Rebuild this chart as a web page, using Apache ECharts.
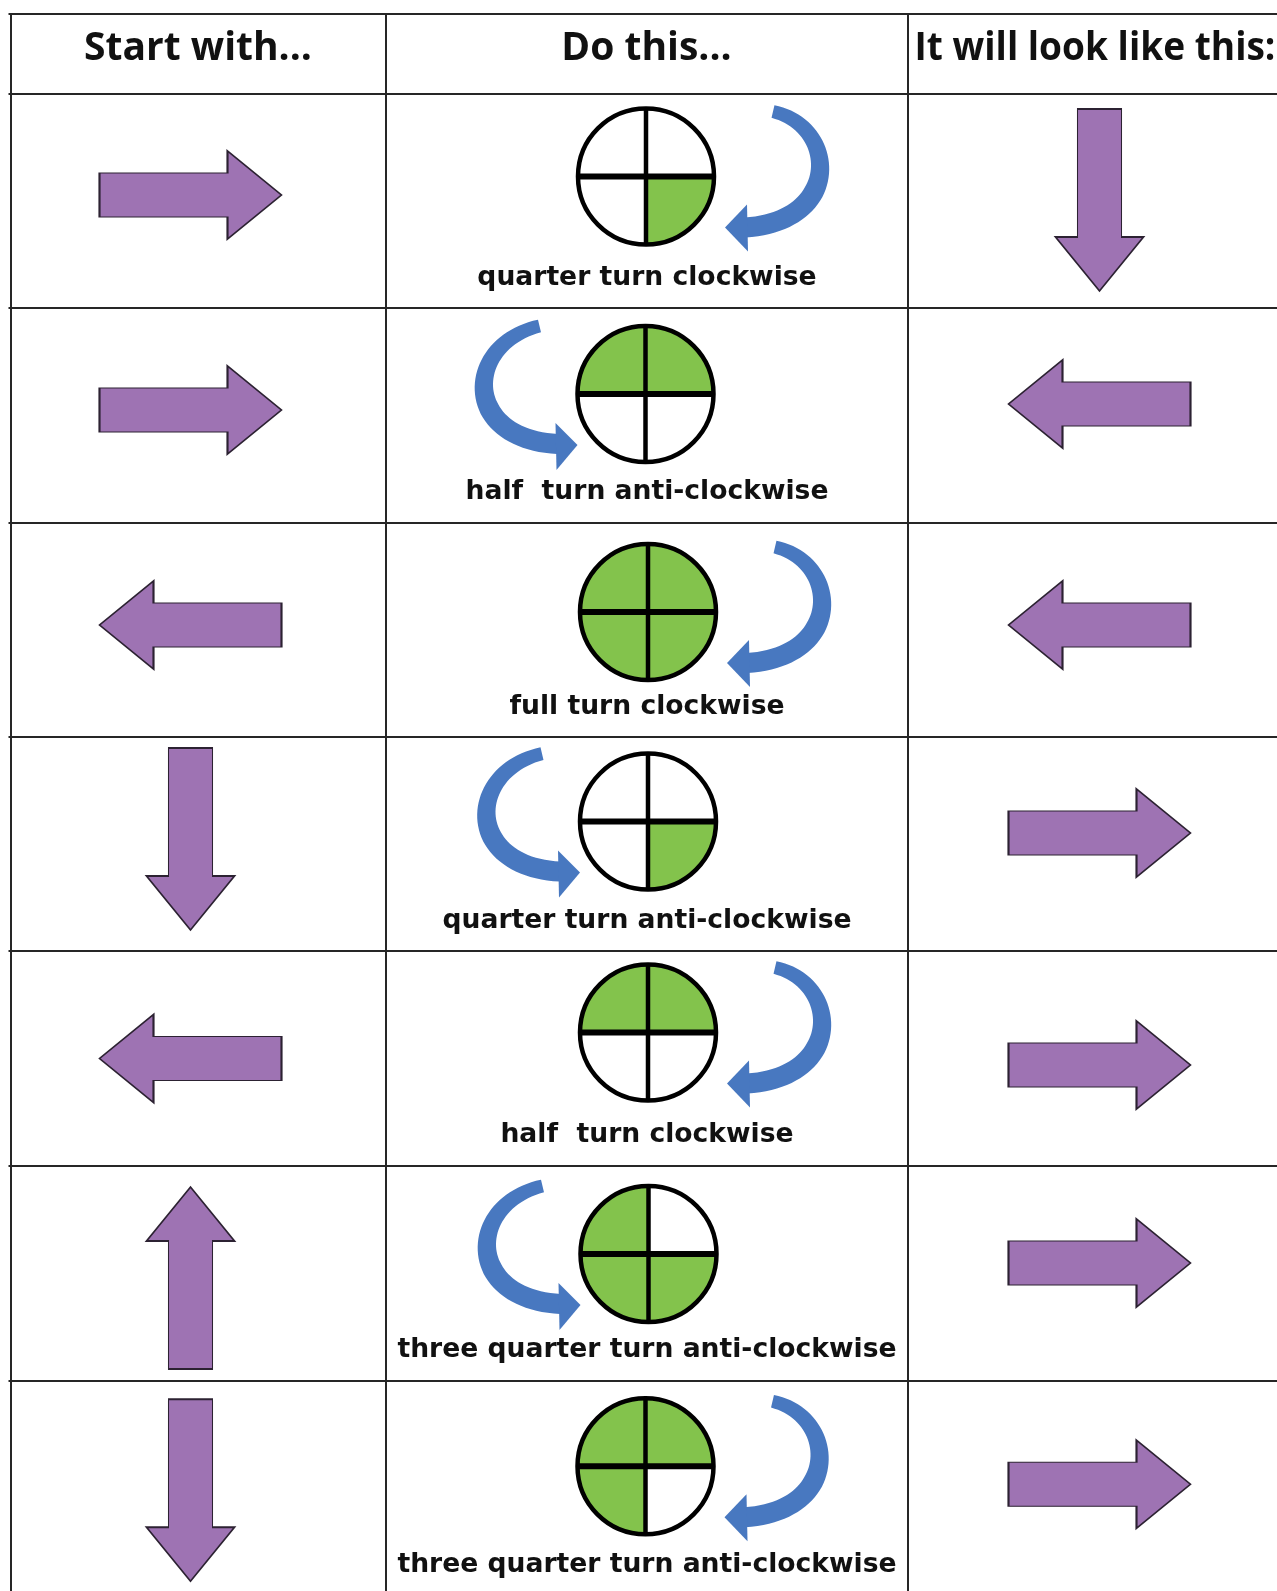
<!DOCTYPE html>
<html><head><meta charset="utf-8">
<script src="https://cdn.jsdelivr.net/npm/echarts@6/dist/echarts.min.js"></script>
<style>html,body{margin:0;padding:0;background:#fff}#c{width:1277px;height:1591px}</style>
</head><body><div id="c"></div>
<script>
// ---------------- data ----------------
const headers = ['Start with...', 'Do this...', 'It will look like this:'];
const startDirections = ['right', 'right', 'left', 'down', 'left', 'up', 'down'];
const resultDirections = ['down', 'left', 'left', 'right', 'right', 'right', 'right'];
const turnLabels = [
  'quarter turn clockwise',
  'half  turn anti-clockwise',
  'full turn clockwise',
  'quarter turn anti-clockwise',
  'half  turn clockwise',
  'three quarter turn anti-clockwise',
  'three quarter turn anti-clockwise'
];
const shadedQuarters = [['BR'], ['TL', 'TR'], ['TL', 'TR', 'BL', 'BR'], ['BR'], ['TL', 'TR'], ['TL', 'BL', 'BR'], ['TL', 'TR', 'BL']];
const curlSide = ['cw', 'acw', 'cw', 'acw', 'cw', 'acw', 'cw'];

// ---------------- layout (positions / sizes / styles) ----------------
const W = 1277, H = 1591;
const tableTop = 14, tableLeft = 10.5;
const rowLines = [94, 308, 523, 737, 951, 1166, 1381];
const rowH = 214.5;
const colLines = [10.5, 386, 908];
const colCenters = [190.5, 647, 1099.5];
const headerCenters = [198, 646.5, 1095];
const headerScaleX = [1, 1, 0.95];
const headerY = 49;
const startNudge = [-6, -5.5, -5, -5, 0, 4.5, 2];
const resultNudge = [-1, -11.5, -5, -11, 6.5, -10.5, -4];
const circleNudgeY = [-24.5, -21.5, -18, -22.4, -26, -19.5, -22];
const circleX = [646, 645.5, 648, 648, 648, 648.5, 645.5];
const labelNudge = 77;
const circleR = 68;
const curlCW = { p0: [127, -65], p1: [192, -50], p2: [196, 45], p3: [99, 51], w0: 13, w1: 20, tip: [79, 51], b1: [101, 28], b2: [102, 75] };
const curlACW = { p0: [-106, -68], p1: [-182, -50], p2: [-184, 45], p3: [-88, 50], w0: 13, w1: 20, tip: [-68, 51], b1: [-90, 29], b2: [-89, 76] };
const COLORS = { purple: '#9e73b3', purpleEdge: '#2c2232', green: '#83c34c', blue: '#4878c0', line: '#262626', ink: '#111' };
const arrowPath = 'path://M0,22L128,22L128,0L182,44L128,88L128,66L0,66Z';
const rotation = { right: 0, left: 180, up: 90, down: -90 };
const quarterAngles = { TR: [-Math.PI / 2, 0], BR: [0, Math.PI / 2], BL: [Math.PI / 2, Math.PI], TL: [Math.PI, Math.PI * 1.5] };

const rowCenter = i => (i < rowLines.length - 1 ? (rowLines[i] + rowLines[i + 1]) / 2 : rowLines[i] + rowH / 2);

// ---------------- build ----------------
const gridLineData = [];
[tableTop].concat(rowLines).forEach(y => gridLineData.push({ coords: [[tableLeft - 2, y], [W, y]] }));
colLines.forEach(x => gridLineData.push({ coords: [[x, tableTop], [x, H]] }));

const arrowData = [];
startDirections.forEach((d, i) => arrowData.push({ value: [colCenters[0], rowCenter(i) + startNudge[i]], symbolRotate: rotation[d] }));
resultDirections.forEach((d, i) => arrowData.push({ value: [colCenters[2], rowCenter(i) + resultNudge[i]], symbolRotate: rotation[d] }));

const circleData = turnLabels.map((_, i) => [circleX[i], rowCenter(i) + circleNudgeY[i], i]);
const labelData = turnLabels.map((_, i) => [colCenters[1], rowCenter(i) + labelNudge, i]);
const headerData = headers.map((_, i) => [headerCenters[i], headerY, i]);

function bez(a, b, c, d, t) {
  const m = 1 - t;
  return m * m * m * a + 3 * m * m * t * b + 3 * m * t * t * c + t * t * t * d;
}
function bezD(a, b, c, d, t) {
  const m = 1 - t;
  return 3 * m * m * (b - a) + 6 * m * t * (c - b) + 3 * t * t * (d - c);
}

const chart = echarts.init(document.getElementById('c'));
chart.setOption({
  animation: false,
  backgroundColor: '#fff',
  grid: { left: 0, right: 0, top: 0, bottom: 0 },
  xAxis: { type: 'value', min: 0, max: W, show: false },
  yAxis: { type: 'value', min: 0, max: H, inverse: true, show: false },
  series: [
    {
      type: 'lines', coordinateSystem: 'cartesian2d', silent: true, z: 1,
      lineStyle: { color: COLORS.line, width: 2, opacity: 1, curveness: 0 },
      data: gridLineData
    },
    {
      type: 'scatter', silent: true, z: 3,
      symbol: arrowPath, symbolSize: [182, 88],
      itemStyle: { color: COLORS.purple, borderColor: COLORS.purpleEdge, borderWidth: 1.5, opacity: 1 },
      data: arrowData
    },
    {
      type: 'custom', silent: true, z: 4,
      data: circleData,
      renderItem: function (params, api) {
        const i = api.value(2);
        const p = api.coord([api.value(0), api.value(1)]);
        const r = api.size([circleR, circleR])[0];
        const children = [];
        ['TL', 'TR', 'BL', 'BR'].forEach(q => {
          const a = quarterAngles[q];
          children.push({
            type: 'sector',
            shape: { cx: p[0], cy: p[1], r0: 0, r: r, startAngle: a[0], endAngle: a[1], clockwise: true },
            style: { fill: shadedQuarters[i].indexOf(q) >= 0 ? COLORS.green : '#fff', stroke: null }
          });
        });
        children.push({ type: 'line', shape: { x1: p[0] - r, y1: p[1], x2: p[0] + r, y2: p[1] }, style: { stroke: '#000', lineWidth: 6 } });
        children.push({ type: 'line', shape: { x1: p[0], y1: p[1] - r, x2: p[0], y2: p[1] + r }, style: { stroke: '#000', lineWidth: 4.5 } });
        children.push({ type: 'circle', shape: { cx: p[0], cy: p[1], r: r }, style: { fill: 'none', stroke: '#000', lineWidth: 4.5 } });
        return { type: 'group', children: children };
      }
    },
    {
      type: 'custom', silent: true, z: 4,
      data: circleData,
      renderItem: function (params, api) {
        const i = api.value(2);
        const p = api.coord([api.value(0), api.value(1)]);
        const u = api.size([1, 1]);
        const g = curlSide[i] === 'cw' ? curlCW : curlACW;
        const P = pt => [p[0] + pt[0] * u[0], p[1] + pt[1] * u[1]];
        const p0 = P(g.p0), p1 = P(g.p1), p2 = P(g.p2), p3 = P(g.p3);
        const left = [], right = [];
        const N = 48;
        for (let k = 0; k <= N; k++) {
          const t = k / N;
          const x = bez(p0[0], p1[0], p2[0], p3[0], t), y = bez(p0[1], p1[1], p2[1], p3[1], t);
          let dx = bezD(p0[0], p1[0], p2[0], p3[0], t), dy = bezD(p0[1], p1[1], p2[1], p3[1], t);
          const len = Math.sqrt(dx * dx + dy * dy) || 1;
          const hw = (g.w0 + (g.w1 - g.w0) * Math.min(1, t * 1.6)) / 2;
          const nx = -dy / len * hw, ny = dx / len * hw;
          left.push([x + nx, y + ny]);
          right.push([x - nx, y - ny]);
        }
        const body = left.concat(right.reverse());
        return {
          type: 'group', children: [
            { type: 'polygon', shape: { points: body }, style: { fill: COLORS.blue } },
            { type: 'polygon', shape: { points: [P(g.tip), P(g.b1), P(g.b2)] }, style: { fill: COLORS.blue } }
          ]
        };
      }
    },
    {
      type: 'custom', silent: true, z: 5,
      data: labelData,
      renderItem: function (params, api) {
        const i = api.value(2);
        const p = api.coord([api.value(0), api.value(1)]);
        return { type: 'text', style: { text: turnLabels[i], x: p[0], y: p[1], fill: COLORS.ink,
          font: 'bold 26.6px "DejaVu Sans"', align: 'center', verticalAlign: 'middle' } };
      }
    },
    {
      type: 'custom', silent: true, z: 5,
      data: headerData,
      renderItem: function (params, api) {
        const i = api.value(2);
        const p = api.coord([api.value(0), api.value(1)]);
        return { type: 'text', x: p[0], y: p[1], scaleX: headerScaleX[i],
          style: { text: headers[i], x: 0, y: 0, fill: COLORS.ink,
            font: 'bold 39px "Open Sans"', align: 'center', verticalAlign: 'middle' } };
      }
    }
  ]
});
</script></body></html>
